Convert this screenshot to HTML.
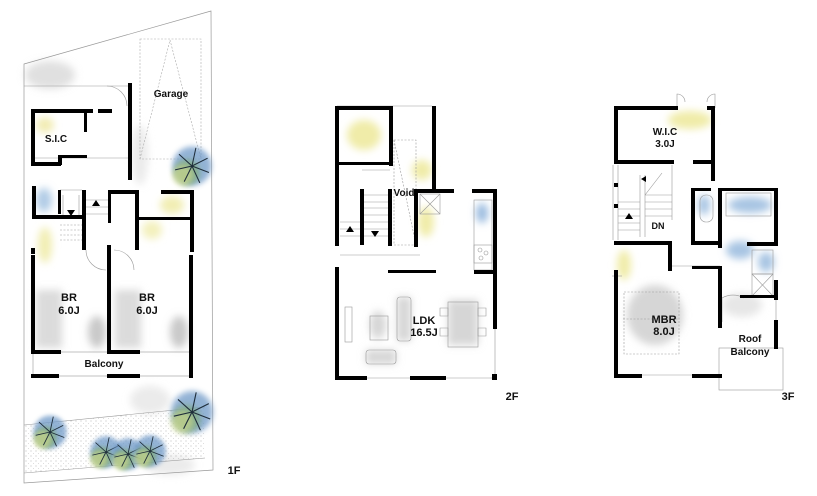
<!DOCTYPE html>
<html><head><meta charset="utf-8"><style>
html,body{margin:0;padding:0;background:#fff;}
svg{display:block;}
text{font-family:"Liberation Sans",sans-serif;font-weight:bold;fill:#111;text-anchor:middle;}
</style></head><body>
<svg width="817" height="496" viewBox="0 0 817 496" xmlns="http://www.w3.org/2000/svg">
<defs>
<filter id="b" x="-50%" y="-50%" width="200%" height="200%"><feGaussianBlur stdDeviation="4"/></filter>
<filter id="b2" x="-50%" y="-50%" width="200%" height="200%"><feGaussianBlur stdDeviation="2"/></filter>
<pattern id="dots" width="5" height="5" patternUnits="userSpaceOnUse"><circle cx="1" cy="1" r="0.5" fill="#333"/><circle cx="3.5" cy="3.5" r="0.4" fill="#555"/></pattern>
<g id="tree">
<circle r="15" fill="#6f9ac8" opacity="0.75" filter="url(#b2)"/>
<circle cx="-4" cy="5" r="10" fill="#7aa873" opacity="0.7" filter="url(#b2)"/>
<circle cx="-7" cy="7" r="8" fill="#e8e88a" opacity="0.5" filter="url(#b2)"/>
<g stroke="#1e2d3a" stroke-width="0.8">
<line x1="0" y1="0" x2="12" y2="-6"/><line x1="0" y1="0" x2="-10" y2="-9"/><line x1="0" y1="0" x2="3" y2="-14"/><line x1="0" y1="0" x2="-13" y2="3"/><line x1="0" y1="0" x2="-6" y2="12"/><line x1="0" y1="0" x2="6" y2="13"/><line x1="0" y1="0" x2="13" y2="5"/></g>
</g>
</defs>

<!-- ============ 1F ============ -->
<g filter="url(#b)">
<ellipse cx="50" cy="75" rx="25" ry="14" fill="#ccc" opacity="0.6"/>
<ellipse cx="140" cy="155" rx="8" ry="30" fill="#ddd" opacity="0.6"/>
<ellipse cx="45" cy="125" rx="9" ry="8" fill="#eee7a0" opacity="0.8"/>
<ellipse cx="44" cy="200" rx="8" ry="12" fill="#9fbfe0" opacity="0.8"/>
<ellipse cx="45" cy="245" rx="7" ry="18" fill="#eeeaa0" opacity="0.8"/>
<ellipse cx="172" cy="205" rx="12" ry="9" fill="#eeeaa0" opacity="0.8"/>
<ellipse cx="152" cy="230" rx="10" ry="9" fill="#eeeaa0" opacity="0.7"/>
<rect x="36" y="290" width="26" height="58" fill="#ccc" opacity="0.7"/>
<rect x="115" y="290" width="26" height="58" fill="#ccc" opacity="0.7"/>
<ellipse cx="97" cy="332" rx="9" ry="16" fill="#bbb" opacity="0.8"/>
<ellipse cx="179" cy="332" rx="9" ry="16" fill="#bbb" opacity="0.8"/>
<ellipse cx="150" cy="400" rx="20" ry="14" fill="#ddd" opacity="0.6"/>
<ellipse cx="170" cy="465" rx="25" ry="10" fill="#ddd" opacity="0.6"/>
</g>
<polygon points="24,64 211,11 213,470 24,483" fill="none" stroke="#999" stroke-width="0.7"/>
<line x1="24" y1="86" x2="128" y2="86" stroke="#999" stroke-width="0.6"/>
<polygon points="24,425 205,407 205,458 24,473" fill="url(#dots)" opacity="0.45"/>
<line x1="24" y1="425" x2="205" y2="407" stroke="#999" stroke-width="0.6"/>
<line x1="24" y1="473" x2="205" y2="458" stroke="#999" stroke-width="0.6"/>
<rect x="140" y="39" width="61" height="120" fill="none" stroke="#aaa" stroke-width="0.6" stroke-dasharray="2,1.5"/>
<polyline points="140,159 170,40 201,159" fill="none" stroke="#aaa" stroke-width="0.6" stroke-dasharray="2,1.5"/>
<g stroke="#999" stroke-width="0.6" fill="none">
<rect x="33" y="352" width="159" height="24"/>
<path d="M107,86 A20,20 0 0 1 127,106"/>
<path d="M86,250 A20,20 0 0 0 106,270"/>
<path d="M114,250 A20,20 0 0 1 134,270"/>
<line x1="33" y1="158" x2="130" y2="158"/>
<line x1="60" y1="190" x2="82" y2="190"/>
<path d="M60,225 h22 M60,230 h22 M60,235 h22 M60,240 h22" stroke-dasharray="2,1.5"/>
<path d="M85,200 h25 M85,207 h25 M85,214 h25 M63,195 v20 M79,195 v20"/>
</g>
<g fill="#000">
<rect x="31" y="109" width="62" height="4"/>
<rect x="31" y="109" width="4" height="57"/>
<rect x="31" y="162" width="30" height="4"/>
<rect x="58" y="155" width="4" height="10"/>
<rect x="58" y="155" width="29" height="3"/>
<rect x="84" y="109" width="3" height="23"/>
<rect x="98" y="109" width="14" height="4"/>
<rect x="128" y="83" width="4" height="97"/>
<rect x="32" y="186" width="4" height="30"/>
<rect x="32" y="215" width="50" height="4"/>
<rect x="58" y="190" width="3" height="24"/>
<rect x="82" y="190" width="4" height="60"/>
<rect x="108" y="190" width="30" height="4"/>
<rect x="108" y="190" width="3" height="33"/>
<rect x="135" y="190" width="4" height="60"/>
<rect x="161" y="190" width="32" height="4"/>
<rect x="190" y="190" width="4" height="62"/>
<rect x="138" y="217" width="55" height="3"/>
<rect x="31" y="248" width="4" height="6"/>
<rect x="31" y="255" width="4" height="99"/>
<rect x="107" y="245" width="4" height="109"/>
<rect x="31" y="350" width="30" height="4"/>
<rect x="107" y="350" width="33" height="4"/>
<rect x="189" y="255" width="4" height="123"/>
<rect x="31" y="374" width="28" height="4"/>
<rect x="107" y="374" width="33" height="4"/>
</g>
<path d="M96,200 l-4,6 h8z M71,216 l-4,-6 h8z" fill="#000"/>
<use href="#tree" transform="translate(192,166) scale(1.3)"/>
<use href="#tree" transform="translate(192,412) scale(1.4)"/>
<use href="#tree" transform="translate(50,432) scale(1.1)"/>
<use href="#tree" transform="translate(106,452) scale(1.05)"/>
<use href="#tree" transform="translate(128,454) scale(1.05)"/>
<use href="#tree" transform="translate(150,451) scale(1.05)"/>
<text x="56" y="142" font-size="10">S.I.C</text>
<text x="171" y="97" font-size="10">Garage</text>
<text x="69" y="301" font-size="11">BR</text><text x="69" y="314" font-size="11">6.0J</text>
<text x="147" y="301" font-size="11">BR</text><text x="147" y="314" font-size="11">6.0J</text>
<text x="104" y="367" font-size="10">Balcony</text>
<text x="234" y="474" font-size="11">1F</text>

<!-- ============ 2F ============ -->
<g filter="url(#b)">
<ellipse cx="364" cy="135" rx="17" ry="15" fill="#eeeaa0" opacity="0.9"/>
<ellipse cx="422" cy="170" rx="10" ry="10" fill="#eeeaa0" opacity="0.9"/>
<ellipse cx="426" cy="222" rx="8" ry="15" fill="#eeeaa0" opacity="0.9"/>
<ellipse cx="482" cy="213" rx="6" ry="10" fill="#8fb4dc" opacity="0.9"/>
<rect x="448" y="300" width="30" height="45" fill="#ccc" opacity="0.8"/>
<rect x="397" y="297" width="14" height="44" fill="#ccc" opacity="0.8"/>
<ellipse cx="378" cy="325" rx="8" ry="14" fill="#ccc" opacity="0.8"/>
<rect x="366" y="350" width="30" height="14" fill="#ccc" opacity="0.8"/>
</g>
<g stroke="#999" stroke-width="0.6" fill="none">
<line x1="337" y1="106" x2="432" y2="106"/>
<rect x="394" y="140" width="22" height="105" stroke-dasharray="2,1.5"/>
<polyline points="394,140 416,245 M416,140 394,245" stroke-dasharray="2,1.5"/>
<rect x="420" y="194" width="20" height="20"/>
<path d="M420,194 l20,20 M440,194 l-20,20"/>
<rect x="474" y="200" width="18" height="70"/>
<rect x="474" y="245" width="18" height="18"/>
<circle cx="480" cy="250" r="2"/><circle cx="486" cy="253" r="2"/><circle cx="481" cy="258" r="2"/>
<path d="M340,255 h80 M362,170 h28 M363,195 h26 M363,202 h26 M363,208 h26 M363,215 h26 M363,222 h26 M363,229 h26 M363,236 h26 M340,222 h22 M340,229 h22 M340,236 h22"/>
<rect x="345" y="307" width="7" height="35"/>
<rect x="370" y="316" width="18" height="24"/>
<rect x="397" y="297" width="14" height="44" rx="3"/>
<rect x="448" y="302" width="30" height="45"/>
<rect x="366" y="350" width="30" height="14" rx="3"/>
<path d="M440,308 h8 v8 h-8z M440,328 h8 v8 h-8z M478,308 h8 v8 h-8z M478,328 h8 v8 h-8z"/>
<line x1="495" y1="328" x2="495" y2="378"/>
<line x1="337" y1="378" x2="495" y2="378"/>
</g>
<g fill="#000">
<rect x="335" y="106" width="4" height="140"/>
<rect x="335" y="267" width="4" height="113"/>
<rect x="335" y="106" width="58" height="4"/>
<rect x="389" y="106" width="4" height="60"/>
<rect x="337" y="162" width="56" height="3"/>
<rect x="432" y="106" width="4" height="86"/>
<rect x="360" y="189" width="4" height="56"/>
<rect x="388" y="189" width="4" height="57"/>
<rect x="414" y="189" width="40" height="4"/>
<rect x="414" y="189" width="4" height="58"/>
<rect x="472" y="189" width="25" height="4"/>
<rect x="493" y="189" width="4" height="140"/>
<rect x="474" y="270" width="22" height="4"/>
<rect x="388" y="270" width="48" height="3"/>
<rect x="335" y="376" width="32" height="4"/>
<rect x="410" y="376" width="36" height="4"/>
<rect x="492" y="374" width="5" height="6"/>
</g>
<path d="M350,226 l-4,6 h8z M375,237 l-4,-6 h8z" fill="#000"/>
<text x="404" y="196" font-size="10">Void</text>
<text x="424" y="324" font-size="11">LDK</text><text x="424" y="336" font-size="11">16.5J</text>
<text x="512" y="400" font-size="11">2F</text>

<!-- ============ 3F ============ -->
<g filter="url(#b)">
<ellipse cx="690" cy="120" rx="22" ry="9" fill="#eeeaa0" opacity="0.9"/>
<ellipse cx="624" cy="265" rx="7" ry="15" fill="#eeeaa0" opacity="0.9"/>
<ellipse cx="655" cy="315" rx="28" ry="30" fill="#ccc" opacity="0.8"/>
<ellipse cx="750" cy="205" rx="22" ry="8" fill="#9fbfe0" opacity="0.9"/>
<ellipse cx="704" cy="205" rx="6" ry="10" fill="#9fbfe0" opacity="0.9"/>
<ellipse cx="740" cy="250" rx="14" ry="9" fill="#9fbfe0" opacity="0.9"/>
<ellipse cx="766" cy="262" rx="8" ry="10" fill="#9fbfe0" opacity="0.9"/>
<ellipse cx="742" cy="305" rx="20" ry="12" fill="#ddd" opacity="0.7"/>
</g>
<g stroke="#999" stroke-width="0.6" fill="none">
<path d="M677,108 v-14 a8,8 0 0 1 8,8 M715,108 v-14 a-8,8 0 0 0 -8,8"/>
<path d="M618,165 v75 M613,165 v75"/>
<path d="M640,175 v62 M645,175 v62 M672,165 v55 M618,202 h22 M618,209 h22 M618,216 h22 M618,223 h22 M618,230 h22 M645,195 h27 M645,202 h27 M645,209 h27 M645,216 h27 M645,195 l17,-22"/>
<rect x="726" y="193" width="45" height="23"/>
<rect x="700" y="195" width="13" height="27" rx="6"/>
<rect x="752" y="250" width="21" height="24"/>
<rect x="752" y="274" width="21" height="22"/>
<path d="M752,274 l21,22 M773,274 l-21,22"/>
<rect x="624" y="292" width="55" height="62" stroke-dasharray="2,1.5"/>
<path d="M623,319 h56" stroke-dasharray="2,1.5"/>
<path d="M722,298 a22,22 0 0 1 22,0 M722,298 v24"/>
<rect x="719" y="348" width="64" height="42"/>
<line x1="776" y1="298" x2="776" y2="320"/>
<line x1="616" y1="375" x2="720" y2="375"/>
<line x1="672" y1="266" x2="720" y2="266"/>
<path d="M612,276 h10"/>
</g>
<g fill="#000">
<rect x="614" y="106" width="64" height="4"/>
<rect x="707" y="106" width="8" height="4"/>
<rect x="711" y="106" width="4" height="75"/>
<rect x="614" y="106" width="4" height="58"/>
<rect x="614" y="160" width="60" height="4"/>
<rect x="693" y="160" width="20" height="4"/>
<rect x="614" y="183" width="4" height="4"/><rect x="614" y="204" width="4" height="4"/>
<rect x="691" y="188" width="4" height="57"/>
<rect x="691" y="188" width="20" height="3"/>
<rect x="718" y="188" width="4" height="60"/>
<rect x="718" y="188" width="60" height="3"/>
<rect x="774" y="188" width="4" height="56"/>
<rect x="692" y="241" width="30" height="4"/>
<rect x="747" y="242" width="31" height="4"/>
<rect x="614" y="241" width="58" height="4"/>
<rect x="668" y="241" width="4" height="30"/>
<rect x="692" y="266" width="30" height="3"/>
<rect x="718" y="266" width="4" height="62"/>
<rect x="614" y="270" width="4" height="108"/>
<rect x="614" y="374" width="28" height="4"/>
<rect x="692" y="374" width="30" height="4"/>
<rect x="774" y="280" width="4" height="20"/>
<rect x="740" y="295" width="38" height="3"/>
<rect x="774" y="320" width="4" height="29"/>
</g>
<path d="M629,213 l-4,6 h8z M646,176 l-5,3 l5,3z" fill="#000"/>
<text x="665" y="135" font-size="10">W.I.C</text><text x="665" y="147" font-size="10">3.0J</text>
<text x="658" y="229" font-size="9">DN</text>
<text x="664" y="323" font-size="11">MBR</text><text x="664" y="335" font-size="11">8.0J</text>
<text x="750" y="342" font-size="10">Roof</text><text x="750" y="355" font-size="10">Balcony</text>
<text x="788" y="400" font-size="11">3F</text>
</svg>
</body></html>
